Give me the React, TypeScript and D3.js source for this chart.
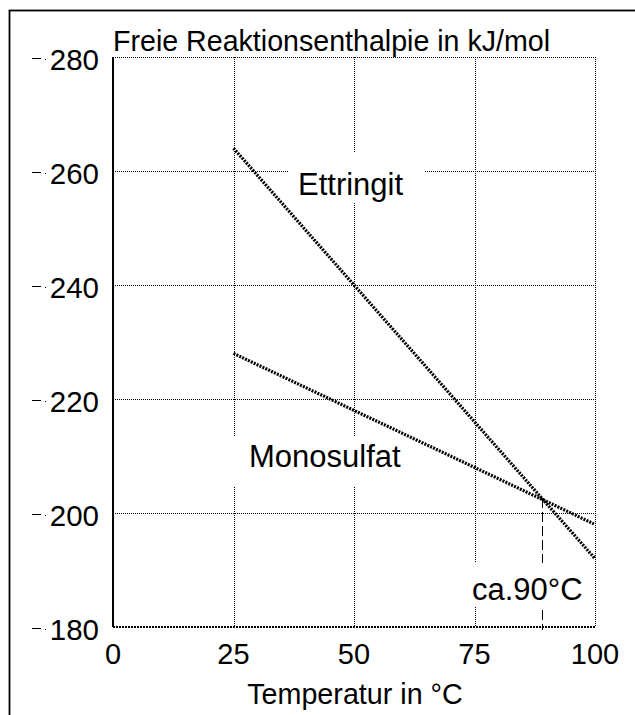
import React from "react";
import * as d3 from "d3";

// ---- data ----
const temperatures = [25, 100];
const ettringit = [264, 192];
const monosulfat = [228, 198];
const xTicks = [0, 25, 50, 75, 100];
const yTicks = [180, 200, 220, 240, 260, 280];
const crossTemp = 89;
const crossValue = 202.6;

const W = 635;
const H = 715;
const FONT = "'Liberation Sans', Arial, Helvetica, sans-serif";

export default function App() {
  const x = d3.scaleLinear().domain([0, 100]).range([113, 595]);
  const y = d3.scaleLinear().domain([180, 280]).range([627, 57]);
  const line = d3
    .line<number>()
    .x((_, i) => x(temperatures[i]))
    .y((d) => y(d));

  const labels = [
    { text: "Ettringit", tx: 298, ty: 195, rect: [288, 153, 424, 203], size: 31 },
    { text: "Monosulfat", tx: 249, ty: 467, rect: [226, 437, 414, 487], size: 31 },
    { text: "ca.90°C", tx: 472, ty: 600, rect: [465, 563, 590, 607], size: 31 },
  ];

  const px = (v: number) => Math.round(v) + 0.5;

  return (
    <svg
      width={W}
      height={H}
      style={{ position: "absolute", left: 0, top: 0, background: "#fff" }}
      fontFamily={FONT}
    >
      <rect x={0} y={0} width={W} height={H} fill="#fff" />
      {/* outer frame */}
      <rect x={9.5} y={10.5} width={700} height={800} fill="none" stroke="#000" strokeWidth={1.8} />

      {/* title */}
      <text x={113} y={51} fontSize={28.6} fill="#000">
        Freie Reaktionsenthalpie in kJ/mol
      </text>

      {/* horizontal grid */}
      {yTicks.map((t) =>
        t === 180 ? null : (
          <line
            key={"h" + t}
            x1={x(0)}
            x2={x(100)}
            y1={px(y(t))}
            y2={px(y(t))}
            stroke="#000"
            strokeWidth={1}
            strokeDasharray="1,1"
            shapeRendering="crispEdges"
          />
        )
      )}
      {/* vertical grid */}
      {xTicks.map((t) =>
        t === 0 ? null : (
          <line
            key={"v" + t}
            x1={px(x(t))}
            x2={px(x(t))}
            y1={y(280)}
            y2={y(180)}
            stroke="#000"
            strokeWidth={1}
            strokeDasharray="1,1"
            shapeRendering="crispEdges"
          />
        )
      )}
      {/* axes */}
      <line x1={x(0)} x2={x(0)} y1={y(280)} y2={y(180)} stroke="#000" strokeWidth={2} shapeRendering="crispEdges" />
      <line
        x1={x(0)}
        x2={x(100)}
        y1={y(180)}
        y2={y(180)}
        stroke="#000"
        strokeWidth={2}
        strokeDasharray="2,1"
        shapeRendering="crispEdges"
      />

      {/* y tick labels */}
      {yTicks.map((t) => (
        <g key={"yt" + t}>
          <line x1={32} x2={41} y1={px(y(t) + 1)} y2={px(y(t) + 1)} stroke="#000" strokeWidth={1} shapeRendering="crispEdges" />
          <rect x={45} y={Math.round(y(t)) + 2} width={1} height={1} fill="#000" />
          <text x={99} y={y(t) + 12.5} fontSize={29.5} textAnchor="end" fill="#000">
            {t}
          </text>
        </g>
      ))}
      {/* x tick labels */}
      {xTicks.map((t) => (
        <text key={"xt" + t} x={x(t)} y={664} fontSize={29} textAnchor="middle" fill="#000">
          {t}
        </text>
      ))}
      <text x={x(50) + 1} y={704} fontSize={28.7} textAnchor="middle" fill="#000">
        Temperatur in °C
      </text>

      {/* crossing marker */}
      <line
        x1={px(x(crossTemp))}
        x2={px(x(crossTemp))}
        y1={y(crossValue)}
        y2={y(180) + 3}
        stroke="#000"
        strokeWidth={1.5}
        strokeDasharray="10,4"
        shapeRendering="crispEdges"
      />

      {/* label backgrounds & labels */}
      {labels.map((l) => (
        <g key={l.text}>
          <rect
            x={l.rect[0]}
            y={l.rect[1]}
            width={l.rect[2] - l.rect[0]}
            height={l.rect[3] - l.rect[1]}
            fill="#fff"
          />
          <text x={l.tx} y={l.ty} fontSize={l.size} fill="#000">
            {l.text}
          </text>
        </g>
      ))}

      {/* series */}
      <path d={line(ettringit) || ""} fill="none" stroke="#000" strokeWidth={3.2} strokeDasharray="2,1.2" />
      <path d={line(monosulfat) || ""} fill="none" stroke="#000" strokeWidth={3.2} strokeDasharray="2,1.2" />
    </svg>
  );
}
